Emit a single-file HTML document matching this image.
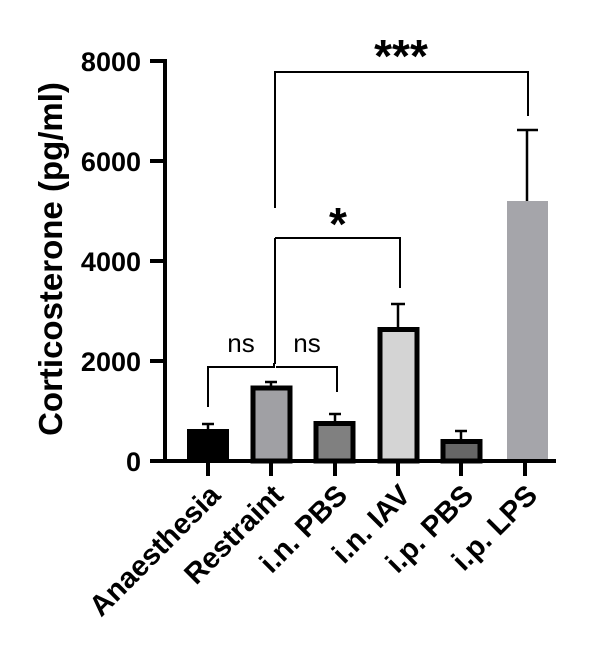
<!DOCTYPE html><html><head><style>body{margin:0;background:#fff}</style></head><body>
<svg width="600" height="667" xmlns="http://www.w3.org/2000/svg" font-family="Liberation Sans, Arial, sans-serif" font-weight="bold">
<g stroke="#000" stroke-width="4" fill="none">
<line x1="165" y1="59" x2="165" y2="463"/>
<line x1="163" y1="461" x2="556" y2="461"/>
<line x1="150" y1="61" x2="165" y2="61"/><line x1="150" y1="161" x2="165" y2="161"/><line x1="150" y1="261" x2="165" y2="261"/><line x1="150" y1="361" x2="165" y2="361"/><line x1="150" y1="461" x2="165" y2="461"/>
<line x1="208" y1="461" x2="208" y2="476"/><line x1="271" y1="461" x2="271" y2="476"/><line x1="335" y1="461" x2="335" y2="476"/><line x1="398" y1="461" x2="398" y2="476"/><line x1="461" y1="461" x2="461" y2="476"/><line x1="525" y1="461" x2="525" y2="476"/>
</g>
<g font-size="27" text-anchor="end">
<text x="141" y="71">8000</text><text x="141" y="171">6000</text><text x="141" y="271">4000</text><text x="141" y="371">2000</text><text x="141" y="471">0</text>
</g>
<text transform="translate(62,259) rotate(-90)" text-anchor="middle" font-size="33">Corticosterone (pg/ml)</text>
<g stroke="#000" stroke-width="2.5" fill="none">
<line x1="208" y1="429" x2="208" y2="424"/><line x1="202" y1="424" x2="214" y2="424"/>
<line x1="271" y1="386" x2="271" y2="382"/><line x1="265" y1="382" x2="277" y2="382"/>
<line x1="335" y1="421" x2="335" y2="414"/><line x1="329" y1="414" x2="341" y2="414"/>
<line x1="398" y1="327" x2="398" y2="304"/><line x1="391" y1="304" x2="405" y2="304"/>
<line x1="461" y1="439" x2="461" y2="431"/><line x1="455" y1="431" x2="467" y2="431"/>
<line x1="527" y1="201" x2="527" y2="130"/><line x1="517" y1="130" x2="538" y2="130"/>
</g>
<rect x="187" y="429" width="42" height="32" fill="#000"/>
<rect x="253" y="388" width="37" height="73" fill="#a0a0a4" stroke="#000" stroke-width="5"/>
<rect x="316" y="423.5" width="37" height="37.5" fill="#808080" stroke="#000" stroke-width="5"/>
<rect x="380" y="329.5" width="37" height="131.5" fill="#d4d4d4" stroke="#000" stroke-width="5"/>
<rect x="443" y="441.5" width="37" height="19.5" fill="#666" stroke="#000" stroke-width="5"/>
<rect x="507" y="201" width="41" height="258" fill="#a5a5aa"/>
<g stroke="#000" stroke-width="2" fill="none">
<polyline points="208,407 208,367 274,367 274,363"/>
<polyline points="337,392 337,367 276,367"/>
<line x1="275" y1="364" x2="275" y2="238"/>
<polyline points="275,238 400,238 400,288"/>
<polyline points="275,208 275,72 528,72 528,116"/>
</g>
<g font-weight="normal" font-size="26" text-anchor="middle">
<text x="241" y="352">ns</text><text x="307" y="352">ns</text>
</g>
<text x="338" y="240" font-size="46" text-anchor="middle">*</text>
<text x="401" y="72" font-size="46" text-anchor="middle">***</text>
<g font-size="29" text-anchor="end">
<text transform="translate(222,497) rotate(-45)">Anaesthesia</text>
<text transform="translate(285,497) rotate(-45)">Restraint</text>
<text transform="translate(349,497) rotate(-45)">i.n. PBS</text>
<text transform="translate(412,497) rotate(-45)">i.n. IAV</text>
<text transform="translate(475,497) rotate(-45)">i.p. PBS</text>
<text transform="translate(539,497) rotate(-45)">i.p. LPS</text>
</g>
</svg></body></html>
